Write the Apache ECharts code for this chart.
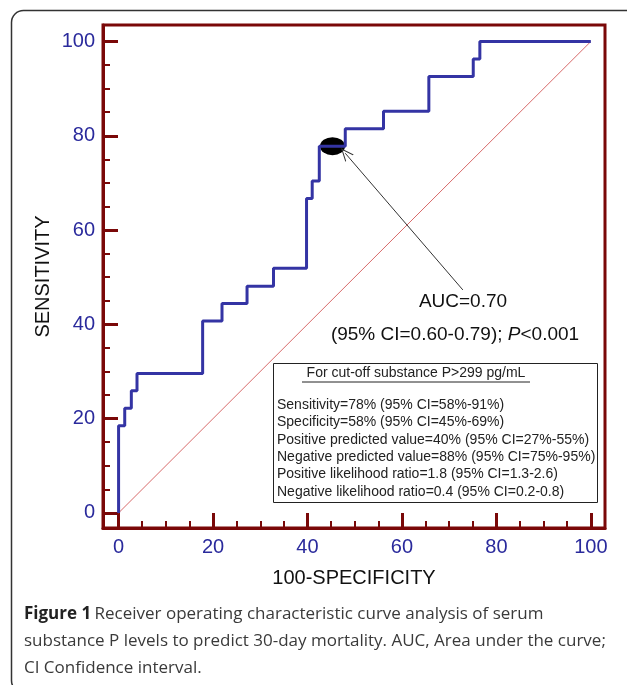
<!DOCTYPE html>
<html>
<head>
<meta charset="utf-8">
<script src="https://cdn.jsdelivr.net/npm/echarts@6/dist/echarts.min.js"></script>
<style>
  html, body { margin: 0; padding: 0; background: #fff; }
  #main { width: 627px; height: 685px; }
</style>
</head>
<body>
<div id="main"></div>
<script>
// ROC curve corners (100-specificity, sensitivity), drawn with step 'end'
var fprPoints  = [0, 0, 1.3, 2.7, 3.9, 17.8, 21.9, 27.2, 32.8, 39.8, 41.0, 42.5, 48.0, 56.1, 65.7, 75.1, 76.5, 100];
var sensPoints = [0, 18.5, 22.2, 25.9, 29.6, 40.7, 44.4, 48.1, 51.9, 66.7, 70.4, 77.8, 81.5, 85.2, 92.6, 96.3, 100, 100];
var cutPoint = [45.3, 77.8];
var diagonal = [[0, 0], [100, 100]];
var arrowFrom = [72.9, 47.3];
var arrowTo = [48.0, 76.3];

var majorTicks = [0, 20, 40, 60, 80, 100];
var minorTicks = [5, 10, 15, 25, 30, 35, 45, 50, 55, 65, 70, 75, 85, 90, 95];

var aucText = 'AUC=0.70';
var ciText = ['(95% CI=0.60-0.79); ', 'P', '<0.001'];
var boxTitle = 'For cut-off substance P>299 pg/mL';
var boxLines = [
    'Sensitivity=78% (95% CI=58%-91%)',
    'Specificity=58% (95% CI=45%-69%)',
    'Positive predicted value=40% (95% CI=27%-55%)',
    'Negative predicted value=88% (95% CI=75%-95%)',
    'Positive likelihood ratio=1.8 (95% CI=1.3-2.6)',
    'Negative likelihood ratio=0.4 (95% CI=0.2-0.8)'
];
var captionLines = [
    'Receiver operating characteristic curve analysis of serum',
    'substance P levels to predict 30-day mortality. AUC, Area under the curve;',
    'CI Confidence interval.'
];

var frameColor = '#7a0808';
var labelColor = '#2a2a9c';
var curveColor = '#3434a4';
var fontMain = '"Liberation Sans", Arial, sans-serif';
var fontCaption = '"Open Sans", "Noto Sans", sans-serif';

var myChart = echarts.init(document.getElementById('main'));

var rocData = [];
for (var i = 0; i < fprPoints.length; i++) {
    rocData.push([fprPoints[i], sensPoints[i]]);
}

function mainAxis(isX) {
    return {
        type: 'value',
        min: isX ? -3.3 : -3.2,
        max: isX ? 103 : 103.5,
        position: isX ? 'bottom' : 'left',
        name: isX ? '100-SPECIFICITY' : 'SENSITIVITY',
        nameLocation: 'middle',
        nameGap: isX ? 40 : 50,
        nameMoveOverlap: false,
        nameTextStyle: { color: '#111', fontSize: 20, fontFamily: fontMain },
        axisLine: { show: true, onZero: false, lineStyle: { color: frameColor, width: 3 } },
        axisTick: { show: true, inside: true, length: 15, customValues: majorTicks,
            lineStyle: { color: frameColor, width: 3 } },
        axisLabel: { customValues: majorTicks, color: labelColor, fontSize: 20,
            fontFamily: fontMain, margin: isX ? 9 : 8 },
        splitLine: { show: false }
    };
}
function minorAxis(isX) {
    return {
        type: 'value',
        min: isX ? -3.3 : -3.2,
        max: isX ? 103 : 103.5,
        position: isX ? 'bottom' : 'left',
        axisLine: { show: false, onZero: false },
        axisTick: { show: true, inside: true, length: 7, customValues: minorTicks,
            lineStyle: { color: frameColor, width: 2 } },
        axisLabel: { show: false },
        splitLine: { show: false }
    };
}

var boxGraphics = [];
boxGraphics.push({
    type: 'rect', left: 273, top: 363,
    shape: { width: 324, height: 139 },
    style: { fill: '#fff', stroke: '#222', lineWidth: 1 }
});
boxGraphics.push({
    type: 'text', x: 416, y: 373,
    style: { text: boxTitle, fill: '#222', fontSize: 14, fontFamily: fontMain,
        align: 'center', verticalAlign: 'middle' }
});
boxGraphics.push({
    type: 'line', shape: { x1: 302, y1: 382, x2: 530, y2: 382 },
    style: { stroke: '#222', lineWidth: 1 }
});
boxLines.forEach(function (t, k) {
    boxGraphics.push({
        type: 'text', x: 277, y: 405 + k * 17.4,
        style: { text: t, fill: '#222', fontSize: 14, fontFamily: fontMain,
            align: 'left', verticalAlign: 'middle' }
    });
});

var option = {
    animation: false,
    backgroundColor: '#fff',
    grid: { left: 103, right: 22, top: 25, bottom: 157, show: true,
        borderColor: frameColor, borderWidth: 3, backgroundColor: '#fff' },
    xAxis: [mainAxis(true), minorAxis(true)],
    yAxis: [mainAxis(false), minorAxis(false)],
    graphic: [
        {
            type: 'rect', left: 9, top: 8, silent: true,
            shape: { width: 640, height: 682, r: 12 },
            style: { fill: 'none', stroke: '#333', lineWidth: 1.5 }
        },
        {
            type: 'text', x: 463, y: 302,
            style: { text: aucText, fill: '#111', fontSize: 19, fontFamily: fontMain,
                align: 'center', verticalAlign: 'middle' }
        },
        {
            type: 'text', x: 455, y: 335,
            style: {
                text: '{a|' + ciText[0] + '}{i|' + ciText[1] + '}{a|' + ciText[2] + '}',
                align: 'center', verticalAlign: 'middle',
                rich: {
                    a: { fill: '#111', fontSize: 19, fontFamily: fontMain },
                    i: { fill: '#111', fontSize: 19, fontFamily: fontMain, fontStyle: 'italic' }
                }
            }
        },
        {
            type: 'text', x: 24, y: 614,
            style: {
                text: '{b|Figure 1} {r|' + captionLines[0] + '}',
                verticalAlign: 'middle',
                rich: {
                    b: { fill: '#222', fontSize: 17, fontWeight: 'bold', fontFamily: fontCaption },
                    r: { fill: '#3a3a3a', fontSize: 17, fontFamily: fontCaption }
                }
            }
        },
        {
            type: 'text', x: 24, y: 641,
            style: { text: captionLines[1], fill: '#3a3a3a', fontSize: 17,
                fontFamily: fontCaption, verticalAlign: 'middle' }
        },
        {
            type: 'text', x: 24, y: 668,
            style: { text: captionLines[2], fill: '#3a3a3a', fontSize: 17,
                fontFamily: fontCaption, verticalAlign: 'middle' }
        }
    ].concat(boxGraphics),
    series: [
        {
            name: 'reference',
            type: 'line',
            data: diagonal,
            symbol: 'none',
            silent: true,
            z: 2,
            lineStyle: { color: '#d86a6a', width: 1, type: 'solid' }
        },
        {
            name: 'cut-off',
            type: 'scatter',
            data: [cutPoint],
            symbol: 'circle',
            symbolSize: [25, 18],
            itemStyle: { color: '#000', opacity: 1 },
            z: 3
        },
        {
            name: 'ROC',
            type: 'line',
            data: rocData,
            step: 'end',
            symbol: 'none',
            z: 4,
            lineStyle: { color: curveColor, width: 3 },
            markLine: {
                silent: true,
                symbol: ['none', 'path://M5,0 L10,10 L9,10 L5,2 L1,10 L0,10 Z'],
                symbolSize: [11, 13],
                label: { show: false },
                lineStyle: { color: '#333', width: 1, type: 'solid' },
                data: [[{ coord: arrowFrom }, { coord: arrowTo }]]
            }
        }
    ]
};

myChart.setOption(option);
</script>
</body>
</html>
